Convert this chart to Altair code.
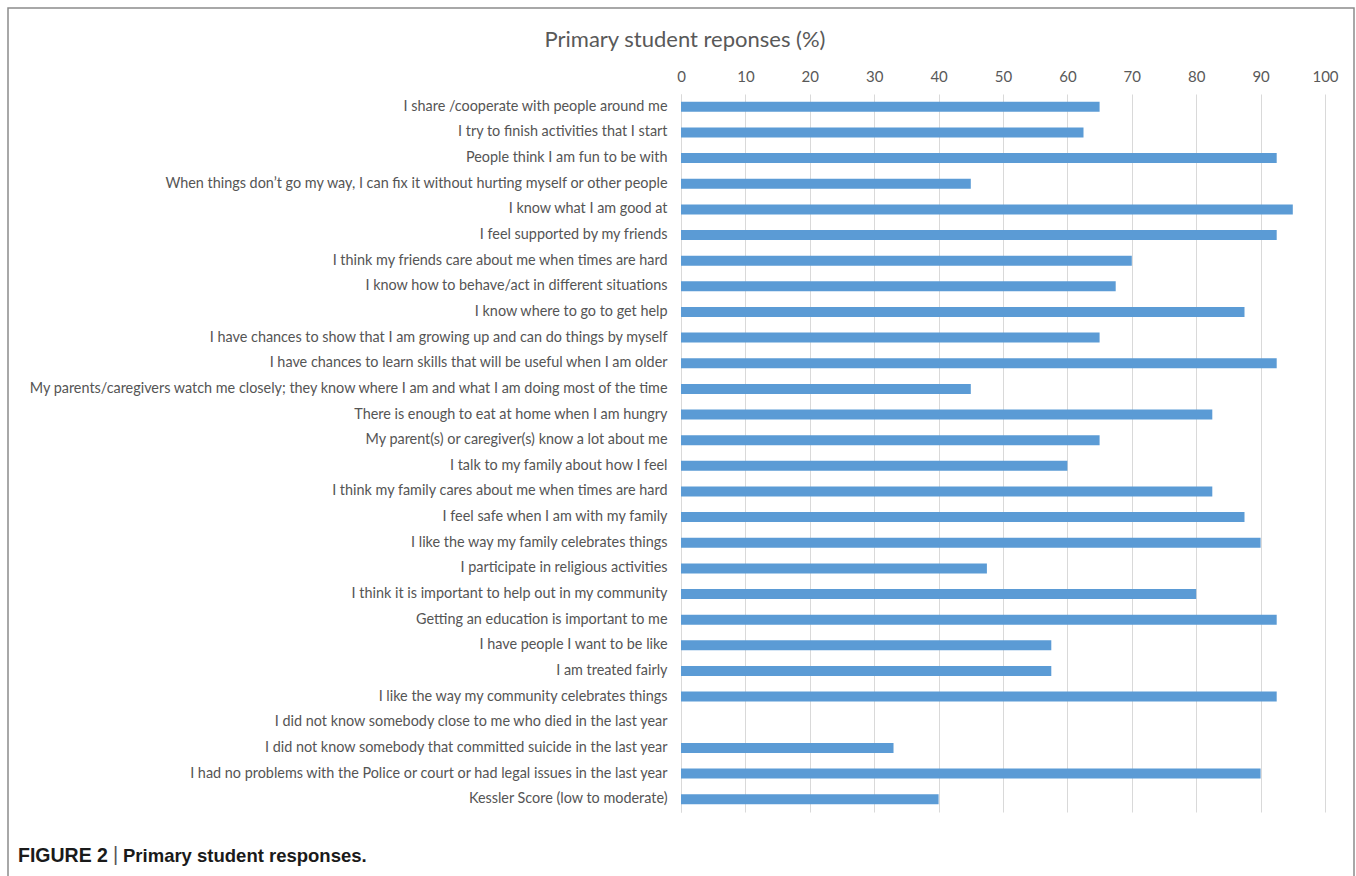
import altair as alt
import pandas as pd

items = [
    "I share /cooperate with people around me",
    "I try to finish activities that I start",
    "People think I am fun to be with",
    "When things don\u2019t go my way, I can fix it without hurting myself or other people",
    "I know what I am good at",
    "I feel supported by my friends",
    "I think my friends care about me when times are hard",
    "I know how to behave/act in different situations",
    "I know where to go to get help",
    "I have chances to show that I am growing up and can do things by myself",
    "I have chances to learn skills that will be useful when I am older",
    "My parents/caregivers watch me closely; they know where I am and what I am doing most of the time",
    "There is enough to eat at home when I am hungry",
    "My parent(s) or caregiver(s) know a lot about me",
    "I talk to my family about how I feel",
    "I think my family cares about me when times are hard",
    "I feel safe when I am with my family",
    "I like the way my family celebrates things",
    "I participate in religious activities",
    "I think it is important to help out in my community",
    "Getting an education is important to me",
    "I have people I want to be like",
    "I am treated fairly",
    "I like the way my community celebrates things",
    "I did not know somebody close to me who died in the last year",
    "I did not know somebody that committed suicide in the last year",
    "I had no problems with the Police or court or had legal issues in the last year",
    "Kessler Score (low to moderate)",
]
values = [65, 62.5, 92.5, 45, 95, 92.5, 70, 67.5, 87.5, 65, 92.5, 45, 82.5, 65,
          60, 82.5, 87.5, 90, 47.5, 80, 92.5, 57.5, 57.5, 92.5, 0, 33, 90, 40]
x_ticks = [0, 10, 20, 30, 40, 50, 60, 70, 80, 90, 100]

chart_title = "Primary student reponses (%)"
caption_bold = "FIGURE 2"
caption_rest = "Primary student responses."

df = pd.DataFrame({"item": items, "value": values})

W, H = 644, 718
LEFT, TOP = 681, 94

bars = alt.Chart(df).mark_bar(size=10, color="#5B9BD5").encode(
    x=alt.X("value:Q", scale=alt.Scale(domain=[0, 100], nice=False),
            axis=alt.Axis(orient="top", values=x_ticks, title=None, ticks=False, domain=False,
                          grid=True, gridColor="#d9d9d9", labelColor="#595959",
                          labelFontSize=15, labelFont="Lato", labelPadding=10,
                          labelFlush=False, labelOverlap=False)),
    y=alt.Y("item:N", sort=None, scale=alt.Scale(paddingInner=0, paddingOuter=0),
            axis=alt.Axis(title=None, ticks=False, domain=True, domainColor="#d9d9d9", grid=False,
                          labelColor="#555555", labelFontSize=14.4, labelFont="Lato",
                          labelLimit=800, labelPadding=14)),
)

title = alt.Chart(pd.DataFrame({"t": [chart_title]})).mark_text(
    fontSize=22, font="Lato", color="#595959", align="center", baseline="middle"
).encode(text="t:N", x=alt.value(685 - LEFT), y=alt.value(40 - TOP))

cap1 = alt.Chart(pd.DataFrame({"t": [caption_bold]})).mark_text(
    fontSize=19.5, font="Liberation Sans", fontWeight="bold", color="#1a1a1a", align="left", baseline="middle"
).encode(text="t:N", x=alt.value(18 - LEFT), y=alt.value(856 - TOP))

cap_bar = alt.Chart(pd.DataFrame({"t": ["|"]})).mark_text(
    fontSize=20, font="Liberation Sans", color="#555555", align="left", baseline="middle"
).encode(text="t:N", x=alt.value(113 - LEFT), y=alt.value(855 - TOP))

cap2 = alt.Chart(pd.DataFrame({"t": [caption_rest]})).mark_text(
    fontSize=18.5, font="Liberation Sans", fontWeight="bold", color="#1a1a1a", align="left", baseline="middle"
).encode(text="t:N", x=alt.value(123 - LEFT), y=alt.value(856 - TOP))

frame = alt.Chart(pd.DataFrame({"a": [0]})).mark_rect(
    fill=None, stroke="#8c8c8c", strokeWidth=1.5
).encode(x=alt.value(8 - LEFT), x2=alt.value(1354 - LEFT),
         y=alt.value(8 - TOP), y2=alt.value(900 - TOP))

chart = alt.layer(frame, bars, title, cap1, cap_bar, cap2).properties(
    width=W, height=H,
    background="white",
    autosize=alt.AutoSizeParams(type="none"),
    padding={"left": LEFT, "top": TOP, "right": 1356 - LEFT - W, "bottom": 876 - TOP - H},
).configure_view(stroke=None, strokeWidth=0)

chart.save("out.html", embed_options={"renderer": "svg", "actions": False})
